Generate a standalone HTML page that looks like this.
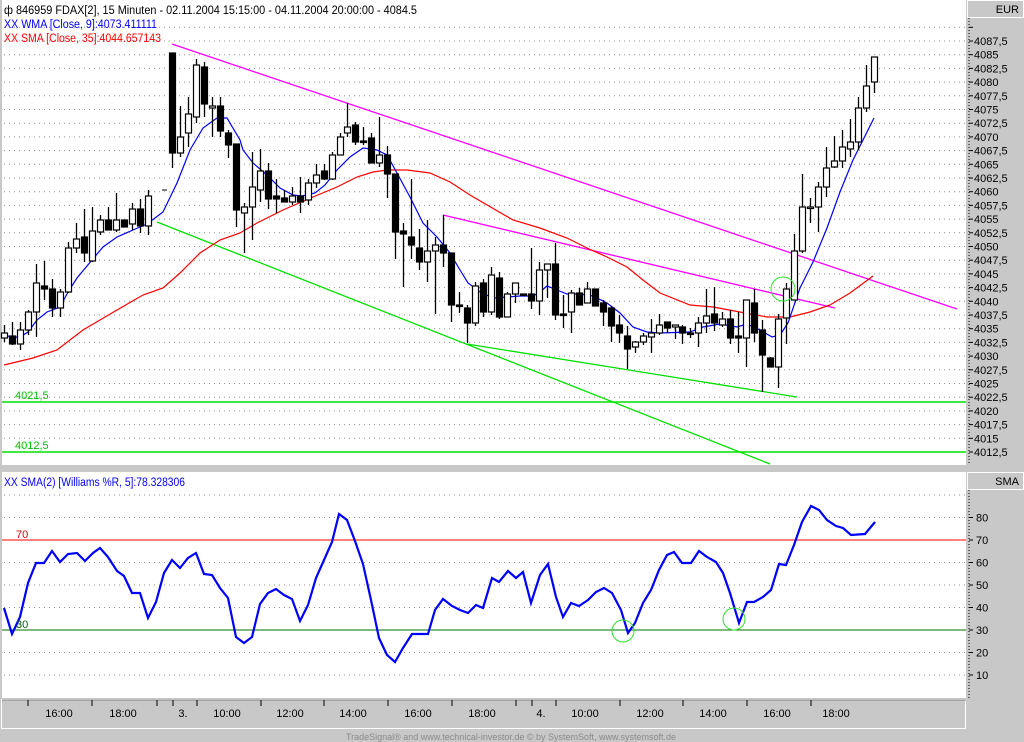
<!DOCTYPE html>
<html><head><meta charset="utf-8"><style>
html,body{margin:0;padding:0;background:#c8c8c8;}
svg{display:block;font-family:"Liberation Sans",Arial,sans-serif;}
</style></head><body>
<svg id="s" width="1024" height="742" viewBox="0 0 1024 742" xmlns="http://www.w3.org/2000/svg">
<rect x="0" y="0" width="1024" height="742" fill="#c8c8c8"/>
<rect x="2" y="0" width="964" height="465" fill="#fff"/>
<rect x="2" y="472" width="964" height="226" fill="#fff"/>
<line x1="969" y1="18" x2="969" y2="465" stroke="#000" stroke-dasharray="1,2"/>
<line x1="969" y1="490" x2="969" y2="698" stroke="#000" stroke-dasharray="1,2"/>
<rect x="967.5" y="0.5" width="56" height="17" fill="#c8c8c8" stroke="#fff"/>
<text x="1019" y="13" font-size="11" text-anchor="end">EUR</text>
<rect x="967.5" y="472.5" width="56" height="17" fill="#c8c8c8" stroke="#fff"/>
<text x="1019" y="485" font-size="11" text-anchor="end">SMA</text>
<rect x="1.5" y="699.5" width="964" height="29" fill="#c8c8c8" stroke="#fff"/>
<line x1="2" y1="700" x2="966" y2="700" stroke="#808080"/>
<text x="511" y="740" font-size="9" fill="#8a8a8a" text-anchor="middle">TradeSignal® and www.technical-investor.de © by SystemSoft, www.systemsoft.de</text>
<g id="g"></g>
<text x="4" y="14" font-size="11.5" textLength="413" lengthAdjust="spacingAndGlyphs">ф 846959  FDAX[2], 15 Minuten - 02.11.2004 15:15:00 - 04.11.2004 20:00:00 - 4084.5</text>
<text x="4" y="28" font-size="11.5" fill="#0000ff" textLength="153" lengthAdjust="spacingAndGlyphs">XX WMA [Close, 9]:4073.411111</text>
<text x="4" y="42" font-size="11.5" fill="#ff0000" textLength="157" lengthAdjust="spacingAndGlyphs">XX SMA [Close, 35]:4044.657143</text>
<text x="4" y="486" font-size="11.5" fill="#0000ff" textLength="181" lengthAdjust="spacingAndGlyphs">XX SMA(2) [Williams %R, 5]:78.328306</text>
<text x="15" y="399" font-size="11" fill="#00c000">4021,5</text>
<text x="15" y="449" font-size="11" fill="#00c000">4012,5</text>
<text x="16" y="538" font-size="11" fill="#e00000">70</text>
<text x="16" y="628" font-size="11" fill="#006000">30</text>
</svg>
<script>
var NS="http://www.w3.org/2000/svg",g=document.getElementById('g');
function el(t,a){var e=document.createElementNS(NS,t);for(var k in a)e.setAttribute(k,a[k]);g.appendChild(e);return e;}
function Y(p){return 41+(4087.5-p)*5.48;}
// upper grid + labels
for(var i=0;i<=32;i++){var p=4090-i*2.5,y=Y(p);if(y<18||y>464)continue;
el('line',{x1:4,y1:y,x2:966,y2:y,stroke:'#909090','stroke-dasharray':'1,4'});
el('line',{x1:969,y1:y,x2:973,y2:y,stroke:'#000'});
if(y>30&&y<460){var t=el('text',{x:974,y:y+4,'font-size':11});t.textContent=(p%1?(p-0.5)+',5':p);}}
// lower grid
for(var v=10;v<=90;v+=10){var y=697.5-2.25*v;
el('line',{x1:4,y1:y,x2:966,y2:y,stroke:'#909090','stroke-dasharray':'1,4'});
if(v<=80){el('line',{x1:969,y1:y,x2:973,y2:y,stroke:'#000'});var t=el('text',{x:976,y:y+4,'font-size':11});t.textContent=v;}}
el('line',{x1:2,y1:540,x2:966,y2:540,stroke:'#ff0000'});
el('line',{x1:2,y1:630,x2:966,y2:630,stroke:'#007000'});
// time axis
[28,92,157,173,197,261,324,388,452,516,532,556,620,683,747,811].forEach(function(x){el('line',{x1:x,y1:700,x2:x,y2:706,stroke:'#000'});});
[[59,'16:00'],[123,'18:00'],[183,'3.'],[227,'10:00'],[290,'12:00'],[353,'14:00'],[418,'16:00'],[482,'18:00'],[541,'4.'],[585,'10:00'],[650,'12:00'],[713,'14:00'],[777,'16:00'],[836,'18:00']].forEach(function(a){var t=el('text',{x:a[0],y:717,'font-size':11,'text-anchor':'middle'});t.textContent=a[1];});
// horizontal green
el('line',{x1:2,y1:402,x2:966,y2:402,stroke:'#00e000','stroke-width':1.5});
el('line',{x1:2,y1:452,x2:966,y2:452,stroke:'#00e000','stroke-width':1.5});
// trend lines
el('line',{x1:172,y1:44,x2:957,y2:309,stroke:'#ff00ff','stroke-width':1.3});
el('line',{x1:443,y1:215,x2:835,y2:308,stroke:'#ff00ff','stroke-width':1.3});
el('line',{x1:157,y1:222,x2:770,y2:464,stroke:'#00e000','stroke-width':1.3});
el('line',{x1:467,y1:344,x2:797,y2:397,stroke:'#00e000','stroke-width':1.3});
function pl(pts,c,w){el('polyline',{points:pts,fill:'none',stroke:c,'stroke-width':w});}
pl("4,365 33,358 57,350 83,330 117,310 143,295 163,288 180,273 200,253 220,240 240,233 257,223 283,210 313,197 337,187 357,177 373,172 387,170 407,170 430,173 450,182 470,195 513,220 540,228 567,238 587,248 607,257 627,267 643,280 660,293 690,305 713,307 740,312 767,317 790,317 810,312 830,305 850,293 873,276",'#ff0000',1.2);
pl("3,335 12,337 20,337 28,332 37,320 47,312 60,307 68,292 77,278 92,260 103,247 117,237 133,230 147,224 163,212 177,183 190,150 203,128 217,118 227,118 240,140 243,150 253,163 267,175 280,188 293,195 302,196 315,193 325,185 337,170 350,157 363,148 377,150 387,155 397,173 410,197 423,223 437,237 450,253 460,270 468,283 480,292 493,298 507,297 520,296 533,296 540,292 547,286 557,290 567,294 580,294 593,296 607,303 620,313 633,327 647,332 660,333 690,332 703,327 720,324 737,327 747,324 760,330 772,337 780,335 788,323 800,288 813,262 827,228 840,192 853,160 863,140 874,118",'#0000ff',1.2);
// candles x,hi,top,bot,lo,white
var C=[[4,325,333,338,342,1],[12.3,322,336,344,345,0],[20.3,322,330,344,350,1],[28.3,310,312,330,335,1],[36.3,264,283,312,337,1],[44.3,261,286,289,300,0],[52.3,279,289,308,317,0],[60.3,289,292,308,317,1],[68.3,242,248,292,293,1],[76.3,223,239,248,253,1],[84.3,209,237,253,262,0],[92.3,207,231,261,262,1],[100.3,215,220,232,235,1],[108.3,207,220,230,230,0],[116.3,193,220,230,232,1],[124.3,220,220,227,227,0],[132.3,203,209,224,230,1],[140.3,199,209,226,233,0],[148.3,190,196,226,235,1],
[172.3,53,53,153,168,0],[180.3,106,137,153,157,1],[188.3,97,114,133,147,1],[196.3,59,65,117,123,1],[204.3,62,67,104,117,0],[212.3,97,106,108,137,1],[220.3,97,106,131,137,0],[228.3,130,133,145,158,0],[236.3,144,144,210,227,0],[244.3,203,207,213,253,1],[252.3,152,187,207,240,1],[260.3,149,171,190,202,1],[268.3,163,171,199,209,0],[276.3,179,196,199,213,0],[284.3,190,198,202,202,0],[292.3,187,196,202,205,1],[300.3,177,196,202,213,0],[308.3,179,183,200,205,1],[316.3,164,175,183,188,1],[323.7,164,171,179,180,0],[331.7,152,155,179,180,1],[339.7,133,137,155,155,1],[347.3,103,127,133,137,1],[355.3,122,125,142,145,0],[363.3,127,141,142,145,0],[371.3,133,138,163,163,0],[379.3,117,155,163,167,1],[387.3,146,155,174,198,0],[395.3,174,174,232,259,0],[403.3,223,231,234,287,0],[411.3,179,237,245,259,0],[419.3,229,248,262,270,0],[427.3,220,251,262,282,1],[435.3,237,245,251,314,1],[443.3,215,245,253,267,0],[451.3,253,253,305,322,0],[459.3,292,305,306,313,0],[467.3,305,308,323,343,0],[475.3,282,286,323,326,1],[483.3,279,283,312,317,0],[491.3,267,275,312,315,1],[499.3,272,278,317,319,0],[507.3,292,294,317,317,1],[515.3,283,283,294,303,1],[523.3,294,294,295,294,0],[531.3,248,294,301,309,0],[539.3,262,270,301,315,1],[547.3,264,264,270,298,1],[555.3,243,264,315,320,0],[563.3,295,314,315,328,0],[571.3,290,293,312,333,1],[579.3,288,293,305,305,0],[587.3,282,289,303,303,1],[595.3,289,289,306,306,0],[603.3,300,303,312,326,0],[611.3,306,308,326,342,0],[619.3,315,325,333,343,0],[627.3,326,336,349,369,0],[635.3,341,342,347,353,1],[642.7,333,336,342,345,1],[650.7,319,333,337,353,1],[658.7,314,325,333,335,1],[666.7,322,322,328,333,0],[674.7,325,325,327,339,1],[682.3,325,327,333,344,0],[690.3,328,333,334,338,0],[698.3,317,323,333,347,1],[706.3,289,316,323,333,1],[714.3,287,314,323,331,0],[722.3,312,319,325,327,1],[730.3,310,319,338,344,0],[738.3,312,336,338,353,0],[746.3,300,300,338,367,1],[754.3,289,303,333,342,0],[762.3,320,330,355,392,0],[770.3,357,358,367,367,0],[778.3,314,319,367,388,1],[786.3,283,289,318,344,1],[794.3,234,251,300,300,1],[802.3,174,207,251,253,1],[810.3,198,207,208,223,1],[818.3,182,187,207,232,1],[826.3,147,168,187,197,1],[834.3,136,161,167,168,1],[842.3,130,147,161,168,1],[850.3,119,142,149,157,1],[858.3,97,108,142,150,1],[866.3,65,86,108,112,1],[874.3,57,57,82,93,1]];
C.forEach(function(c){var x=Math.round(c[0])+0.5;
el('line',{x1:x,y1:c[1],x2:x,y2:c[4],stroke:'#000','stroke-width':1.3});
var h=Math.max(c[3]-c[2],1.5);
el('rect',{x:x-3,y:c[2],width:6,height:h,fill:c[5]?'#fff':'#000',stroke:'#000','stroke-width':1.2});});
el('line',{x1:162,y1:190,x2:167,y2:190,stroke:'#000'});
el('circle',{cx:783,cy:289,r:12,fill:'none',stroke:'#30e030'});
// williams
pl("4,608 12,634 20,617 28,583 36,563 44,563 52,551 60,562 68,554 77,553 85,561 93,553 100,548 108,557 117,571 124,576 132,593 140,593 148,618 156,602 164,573 172,560 180,568 188,558 196,553 204,574 212,575 220,588 228,598 236,637 244,643 252,637 260,604 268,593 276,589 284,595 292,599 300,621 308,605 316,578 324,560 332,542 339,514 347,520 355,541 363,564 371,600 379,638 387,655 395,662 403,648 412,634 428,634 435,610 443,599 452,606 460,610 468,613 476,605 483,608 492,578 499,582 508,571 516,578 523,572 531,603 540,575 548,564 556,597 563,617 571,603 579,606 588,600 596,592 604,588 612,593 621,610 628,633 635,623 643,603 651,590 659,570 667,555 674,552 682,563 691,563 699,551 707,557 716,562 723,573 730,593 739,623 747,602 754,602 763,597 771,590 779,564 786,565 794,545 802,522 811,506 819,510 827,520 836,526 843,528 851,535 865,534 875,522",'#0000ff',2.2);
el('circle',{cx:623,cy:631,r:11,fill:'none',stroke:'#30e030'});
el('circle',{cx:734,cy:619,r:11,fill:'none',stroke:'#30e030'});
</script>
</body></html>
